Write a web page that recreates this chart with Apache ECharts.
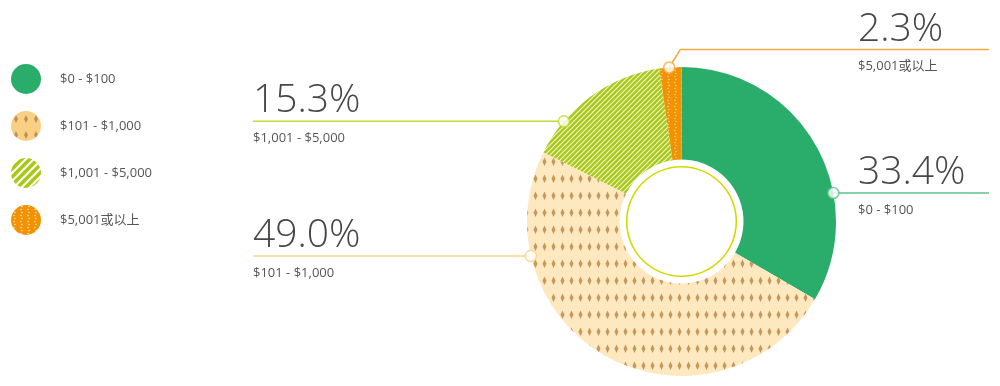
<!DOCTYPE html>
<html><head><meta charset="utf-8">
<script src="https://cdn.jsdelivr.net/npm/echarts@6/dist/echarts.min.js"></script>
<style>html,body{margin:0;padding:0;background:#fff}#c{width:1000px;height:386px}</style>
</head><body><div id="c"></div>
<script>
// ---- data ----
const categories = ['$0 - $100', '$101 - $1,000', '$1,001 - $5,000', '$5,001或以上'];
const values = [33.4, 49.0, 15.3, 2.3];
const percentLabels = ['33.4%', '49.0%', '15.3%', '2.3%'];

// ---- layout / style ----
const CX = 681.5, CY = 221.5, R_IN = 62, R_OUT = 154.5;
const anchorFrac = [0.66, 0.776, 0.25, 0.45];           // where along each slice the label line starts
const labelCfg = [
  {textX: 858, lineEnd: 989, lift: 0,  elbowDx: 1},
  {textX: 253, lineEnd: 253, lift: 0,  elbowDx: -1},
  {textX: 253, lineEnd: 253, lift: 0,  elbowDx: -1},
  {textX: 858, lineEnd: 989, lift: 18, elbowDx: 11}
];
const lineColors = ['#5ec28c', '#f9d68a', '#c3d935', '#f5aa40'];

function pattern(w, h, draw) {
  const c = document.createElement('canvas');
  c.width = w; c.height = h;
  draw(c.getContext('2d'), w, h);
  return {image: c, repeat: 'repeat'};
}
function diamonds(bg, fg, w, h, dw, dh) {
  return pattern(w, h, (g) => {
    g.fillStyle = bg; g.fillRect(0, 0, w, h);
    g.fillStyle = fg; g.beginPath();
    const cx = w / 2, cy = h / 2;
    g.moveTo(cx, cy - dh / 2); g.lineTo(cx + dw / 2, cy); g.lineTo(cx, cy + dh / 2); g.lineTo(cx - dw / 2, cy);
    g.closePath(); g.fill();
  });
}
function stripes(bg, fg, s, lw) {
  return pattern(s, s, (g) => {
    g.fillStyle = bg; g.fillRect(0, 0, s, s);
    g.strokeStyle = fg; g.lineWidth = lw;
    for (let k = -1; k <= 1; k++) {
      g.beginPath(); g.moveTo(k * s - 1, s + 1); g.lineTo(k * s + s + 1, -1); g.stroke();
    }
  });
}
function dots(bg, fg, w, h, r) {
  return pattern(w, h, (g) => {
    g.fillStyle = bg; g.fillRect(0, 0, w, h);
    g.fillStyle = fg;
    for (let y = 1.5; y < h; y += 3) {
      g.beginPath(); g.arc(w / 2 + ((y % 6) < 3 ? 0.5 : -0.5), y, r, 0, Math.PI * 2); g.fill();
    }
  });
}

const sliceColors = [
  '#2aad6a',
  diamonds('#fde8c0', '#c8975a', 9, 17.5, 4, 8.5),
  stripes('#aac917', 'rgba(255,255,255,0.8)', 5, 1.2),
  dots('#f39200', 'rgba(255,235,200,0.9)', 7, 6, 0.7)
];
const legendColors = [
  '#2aad6a',
  diamonds('#f9d083', '#c0905a', 10, 16, 4, 8),
  stripes('#aac917', '#ffffff', 8, 2),
  dots('#f39200', 'rgba(255,235,200,0.95)', 7, 6, 0.8)
];

const total = values.reduce((a, b) => a + b, 0);
const cum = [];
values.reduce((acc, v, i) => { cum[i] = acc; return acc + v; }, 0);
const anchorPct = values.map((v, i) => (cum[i] + anchorFrac[i] * v) / total * 100);

const chart = echarts.init(document.getElementById('c'), null, {renderer: 'canvas'});
const FONT = '"Open Sans", "Noto Sans CJK SC", sans-serif';

chart.setOption({
  animation: false,
  legend: {
    orient: 'vertical', left: 6, top: 59, itemWidth: 30, itemHeight: 30, itemGap: 17,
    icon: 'circle',
    textStyle: {fontSize: 13, color: '#555', fontFamily: FONT, padding: [0, 0, 0, 14]},
    data: categories.map((c, i) => ({name: c, itemStyle: {color: legendColors[i]}})),
    selectedMode: false
  },
  polar: {center: [CX, CY], radius: R_OUT},
  angleAxis: {type: 'value', min: 0, max: 100, startAngle: 90, clockwise: true, show: false},
  radiusAxis: {type: 'value', min: 0, max: 1, show: false},
  series: [
    {
      type: 'pie', center: [CX, CY], radius: [R_IN, R_OUT], startAngle: 90, clockwise: true,
      silent: true, z: 2,
      data: categories.map((c, i) => ({
        name: c, value: values[i],
        itemStyle: {color: sliceColors[i]},
        labelLine: {lineStyle: {color: lineColors[i], width: 1.5}}
      })),
      label: {
        show: true, position: 'outside',
        formatter: (p) => '{p|' + percentLabels[p.dataIndex] + '}\n{n|' + p.name + '}',
        rich: {
          p: {fontSize: 39, lineHeight: 40, fontWeight: 300, color: '#474747', fontFamily: FONT, align: 'left'},
          n: {fontSize: 13, lineHeight: 34, color: '#555', fontFamily: FONT, align: 'left'}
        }
      },
      labelLine: {show: true, length: 10, length2: 10, smooth: false},
      labelLayout: function (p) {
        const i = p.dataIndex, L = labelCfg[i];
        const a = anchorPct[i] / 100 * Math.PI * 2;
        const ax = CX + R_OUT * Math.sin(a), ay = CY - R_OUT * Math.cos(a);
        const ly = ay - L.lift;
        return {
          x: L.textX, y: ly - 40, align: 'left', verticalAlign: 'top',
          labelLinePoints: [[ax, ay], [ax + L.elbowDx, ly], [L.lineEnd, ly]]
        };
      }
    },
    {
      type: 'pie', center: [CX, CY], radius: [54, 55.6], silent: true, z: 1,
      label: {show: false}, labelLine: {show: false},
      data: [{name: 'ring', value: 1, itemStyle: {color: '#d3d900'}}]
    },
    {
      type: 'scatter', coordinateSystem: 'polar', z: 5, silent: true, symbol: 'circle', symbolSize: 11,
      data: anchorPct.map((a, i) => ({value: [1, a], itemStyle: {color: '#fff', borderColor: lineColors[i], borderWidth: 1.6}}))
    }
  ]
});
</script></body></html>
